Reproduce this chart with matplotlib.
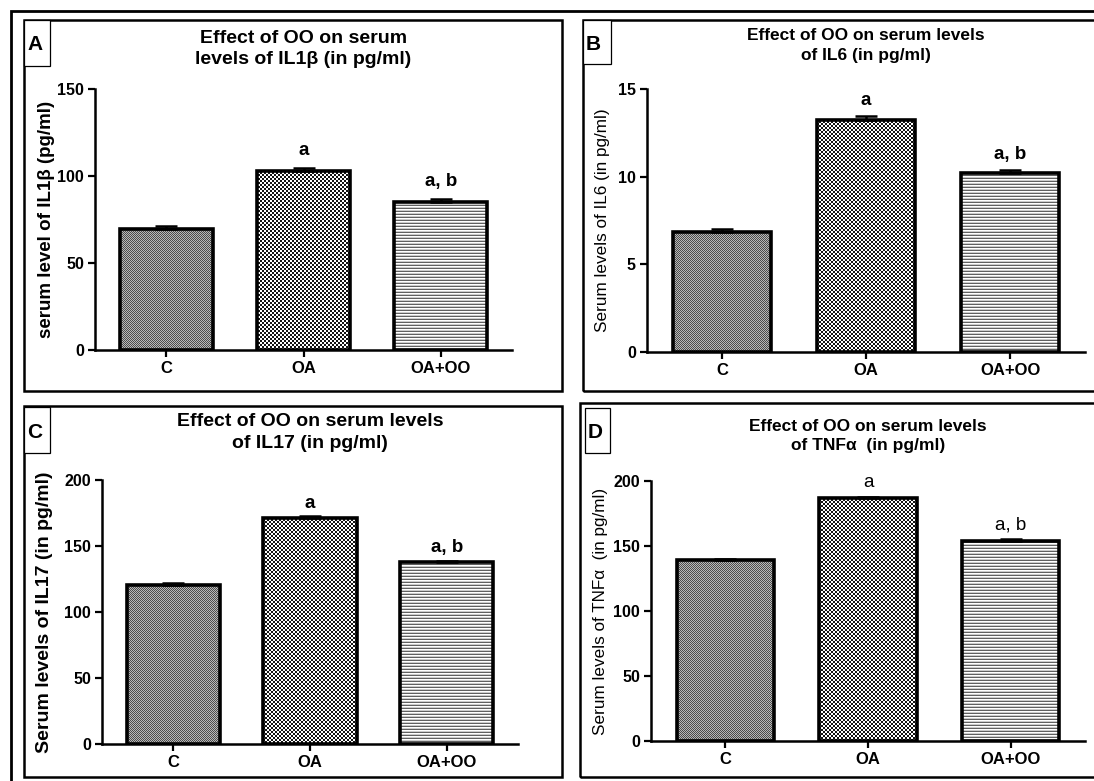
import numpy as np
import matplotlib
matplotlib.use("Agg")
import matplotlib.pyplot as plt
from matplotlib.patches import Rectangle

plt.rcParams['font.family'] = ['Liberation Sans', 'DejaVu Sans']

# --- data ---
groups = ['C', 'OA', 'OA+OO']
sig_labels = ['', 'a', 'a, b']

il1b_mean = [69.5, 103.0, 85.2]
il1b_sem = [1.5, 1.8, 1.6]

il6_mean = [6.84, 13.22, 10.2]
il6_sem = [0.15, 0.23, 0.17]

il17_mean = [120.5, 171.5, 137.7]
il17_sem = [1.8, 0.9, 1.3]

tnf_mean = [139.2, 186.7, 153.8]
tnf_sem = [0.6, 1.3, 1.6]

W, H = 1094, 781
fig = plt.figure(figsize=(W / 100, H / 100), dpi=100)
fig.patch.set_facecolor('white')


def fig_rect(x0, y0, x1, y1, lw, fill=False):
    # rectangle in pixels, origin top-left
    r = Rectangle((x0 / W, 1 - y1 / H), (x1 - x0) / W, (y1 - y0) / H,
                  transform=fig.transFigure, fill=fill, facecolor='white',
                  edgecolor='black', linewidth=lw, clip_on=False)
    fig.add_artist(r)


def px_text(x, y, s, **kw):
    return fig.text(x / W, 1 - y / H, s, **kw)


def px_axes(l, t, r, b):
    return fig.add_axes([l / W, 1 - b / H, (r - l) / W, (b - t) / H])


def texture(kind, h, w):
    yy, xx = np.mgrid[0:h, 0:w]
    if kind == 'fine':
        return np.where((xx + yy) % 2 == 0, 0.3, 0.72)
    if kind == 'coarse':
        return np.where(((xx // 2) + (yy // 2)) % 2 == 0, 0.08, 1.0)
    rows = np.array([0.38, 0.8, 1.0])
    return rows[yy % 3]


def draw_panel(box, means, sems, ymax, step, ylabel, ylx, ybold, ylsize,
               title, ty, tsize, sig_bold, sig_off, yticksize):
    l, t, r, b = box
    ax = px_axes(l, t, r, b)
    ax.set_facecolor('none')
    x = np.arange(len(groups))
    ax.set_xlim(-0.52, 2.52)
    ax.set_ylim(0, ymax)
    bars = ax.bar(x, means, width=0.68, fill=False, edgecolor='black',
                  linewidth=2.6, zorder=3)
    fig.canvas.draw()
    # pixel-exact pattern fills, clipped to each bar
    for bar, kind in zip(bars, ['fine', 'coarse', 'lines']):
        bb = bar.get_window_extent()
        x0, y0 = int(np.floor(bb.x0)), int(np.floor(bb.y0))
        x1, y1 = int(np.ceil(bb.x1)), int(np.ceil(bb.y1))
        arr = texture(kind, y1 - y0, x1 - x0)
        im = fig.figimage(arr, xo=x0, yo=y0, origin='lower', cmap='gray',
                          vmin=0, vmax=1, zorder=-1)
        im.set_clip_path(bar)
    ax.errorbar(x, means, yerr=[np.zeros(len(x)), sems], fmt='none', ecolor='black',
                elinewidth=1.8, capsize=8, capthick=1.8, zorder=4)
    ax.set_xlim(-0.52, 2.52)
    ax.set_ylim(0, ymax)
    for xi, m, s, lab in zip(x, means, sems, sig_labels):
        if lab:
            ax.annotate(lab, (xi, m + s), xytext=(0, sig_off), textcoords='offset points',
                        ha='center', va='baseline', fontsize=13.5,
                        fontweight='bold' if sig_bold else 'normal')
    ax.set_yticks(np.arange(0, ymax + 0.1, step))
    ax.set_xticks(x)
    ax.set_xticklabels(groups)
    for sp in ['top', 'right']:
        ax.spines[sp].set_visible(False)
    for sp in ['left', 'bottom']:
        ax.spines[sp].set_linewidth(1.8)
    ax.tick_params(axis='both', direction='out', length=5, width=1.6, pad=3)
    ax.tick_params(axis='y', labelsize=yticksize)
    ax.tick_params(axis='x', labelsize=12)
    for tl in ax.get_xticklabels() + ax.get_yticklabels():
        tl.set_fontweight('bold')
    px_text(ylx, (t + b) / 2, ylabel, rotation=90, ha='center', va='center',
            fontsize=ylsize, fontweight='bold' if ybold else 'normal')
    px_text((l + r) / 2, ty, title, ha='center', va='center', fontsize=tsize,
            fontweight='bold', linespacing=1.38)
    return ax


# outer frame and panel frames
fig_rect(11, 11, 1200, 900, 2.0)
fig_rect(24, 20, 562, 391, 1.8)
fig_rect(583, 20, 1200, 391, 1.8)
fig_rect(24, 406, 562, 777, 1.8)
fig_rect(580, 403, 1200, 777, 1.8)

draw_panel((95, 89, 512, 350), il1b_mean, il1b_sem, 150, 50,
           'serum level of IL1\u03b2 (pg/ml)', 47, True, 13.5,
           'Effect of OO on serum\nlevels of IL1\u03b2 (in pg/ml)', 49, 14,
           True, 9, 11.5)

draw_panel((647, 89, 1085, 352), il6_mean, il6_sem, 15, 5,
           'Serum levels of IL6 (in pg/ml)', 602, False, 12.3,
           'Effect of OO on serum levels\nof IL6 (in pg/ml)', 45.5, 12.5,
           True, 8, 11.5)

draw_panel((102, 480, 518, 744), il17_mean, il17_sem, 200, 50,
           'Serum levels of IL17 (in pg/ml)', 45, True, 14,
           'Effect of OO on serum levels\nof IL17 (in pg/ml)', 432.5, 14,
           True, 6, 11.5)

draw_panel((651, 481, 1085, 741), tnf_mean, tnf_sem, 200, 50,
           'Serum levels of TNF\u03b1  (in pg/ml)', 601, False, 12.3,
           'Effect of OO on serum levels\nof TNF\u03b1  (in pg/ml)', 436, 12.5,
           False, 7, 11.5)

# panel letter boxes
for (x0, y0, x1, y1), letter in zip([(24, 20, 50, 66), (583, 20, 611, 64),
                                     (24, 407, 50, 453), (585, 408, 610, 453)],
                                    ['A', 'B', 'C', 'D']):
    fig_rect(x0, y0, x1, y1, 0.9, fill=True)
    px_text(x0 + 3, (y0 + y1) / 2 + 2, letter, fontsize=15,
            fontweight='bold', ha='left', va='center')

fig.savefig('out.png', dpi=100)
